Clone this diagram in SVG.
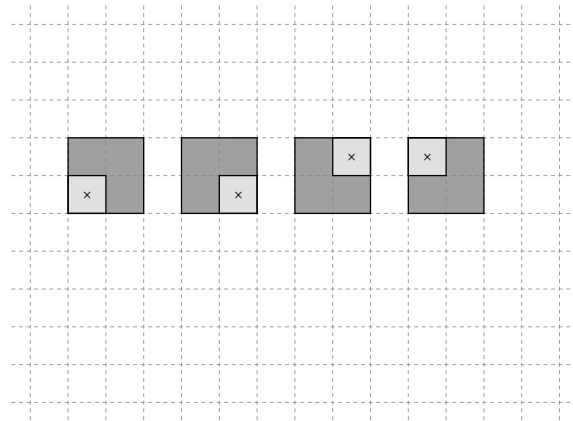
<svg xmlns="http://www.w3.org/2000/svg" width="573" height="421" viewBox="0 0 573 421">
<style>
.dark{fill:#a0a0a0;stroke:none}
.light{fill:#e0e0e0;stroke:#000;stroke-width:1.3}
.frame{fill:none;stroke:#000;stroke-width:1.3}
.grid line{stroke:#888;stroke-width:0.8;stroke-dasharray:4 3.6}
.x{font-family:"DejaVu Sans",sans-serif;font-size:12px;fill:#222;text-anchor:middle;dominant-baseline:central}
</style>
<rect width="573" height="421" fill="#fff"/>
<g id="fills">
<rect class="dark" x="68.1" y="137.8" width="75.6" height="75.6"/>
<rect class="dark" x="181.5" y="137.8" width="75.6" height="75.6"/>
<rect class="dark" x="294.9" y="137.8" width="75.6" height="75.6"/>
<rect class="dark" x="408.3" y="137.8" width="75.6" height="75.6"/>
</g>
<g class="grid" id="grid">
<line x1="11.4" y1="24.4" x2="578" y2="24.4"/>
<line x1="11.4" y1="62.2" x2="578" y2="62.2"/>
<line x1="11.4" y1="100" x2="578" y2="100"/>
<line x1="11.4" y1="137.8" x2="578" y2="137.8"/>
<line x1="11.4" y1="175.6" x2="578" y2="175.6"/>
<line x1="11.4" y1="213.4" x2="578" y2="213.4"/>
<line x1="11.4" y1="251.2" x2="578" y2="251.2"/>
<line x1="11.4" y1="289" x2="578" y2="289"/>
<line x1="11.4" y1="326.8" x2="578" y2="326.8"/>
<line x1="11.4" y1="364.6" x2="578" y2="364.6"/>
<line x1="11.4" y1="402.4" x2="578" y2="402.4"/>
<line x1="30.3" y1="5.5" x2="30.3" y2="422"/>
<line x1="68.1" y1="5.5" x2="68.1" y2="422"/>
<line x1="105.9" y1="5.5" x2="105.9" y2="422"/>
<line x1="143.7" y1="5.5" x2="143.7" y2="422"/>
<line x1="181.5" y1="5.5" x2="181.5" y2="422"/>
<line x1="219.3" y1="5.5" x2="219.3" y2="422"/>
<line x1="257.1" y1="5.5" x2="257.1" y2="422"/>
<line x1="294.9" y1="5.5" x2="294.9" y2="422"/>
<line x1="332.7" y1="5.5" x2="332.7" y2="422"/>
<line x1="370.5" y1="5.5" x2="370.5" y2="422"/>
<line x1="408.3" y1="5.5" x2="408.3" y2="422"/>
<line x1="446.1" y1="5.5" x2="446.1" y2="422"/>
<line x1="483.9" y1="5.5" x2="483.9" y2="422"/>
<line x1="521.7" y1="5.5" x2="521.7" y2="422"/>
<line x1="559.5" y1="5.5" x2="559.5" y2="422"/>
</g>
<g id="square1">
<rect class="light" x="68.1" y="175.6" width="37.8" height="37.8"/>
<rect class="frame" x="68.1" y="137.8" width="75.6" height="75.6"/>
<text class="x" x="87" y="194.5">×</text>
</g>
<g id="square2">
<rect class="light" x="219.3" y="175.6" width="37.8" height="37.8"/>
<rect class="frame" x="181.5" y="137.8" width="75.6" height="75.6"/>
<text class="x" x="238.2" y="194.5">×</text>
</g>
<g id="square3">
<rect class="light" x="332.7" y="137.8" width="37.8" height="37.8"/>
<rect class="frame" x="294.9" y="137.8" width="75.6" height="75.6"/>
<text class="x" x="351.6" y="156.7">×</text>
</g>
<g id="square4">
<rect class="light" x="408.3" y="137.8" width="37.8" height="37.8"/>
<rect class="frame" x="408.3" y="137.8" width="75.6" height="75.6"/>
<text class="x" x="427.2" y="156.7">×</text>
</g>
</svg>
